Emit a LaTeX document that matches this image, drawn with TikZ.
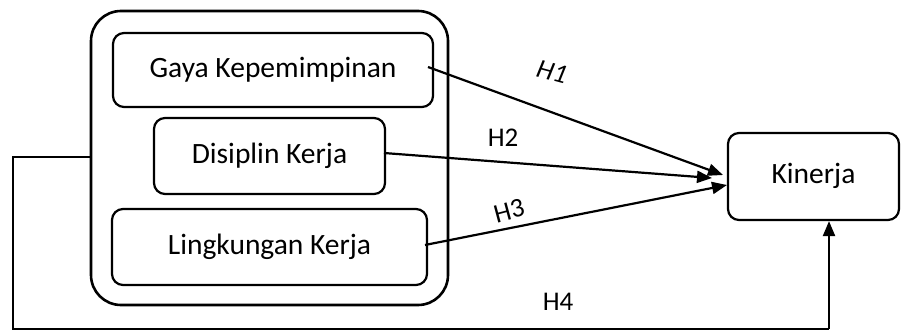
\documentclass[tikz,border=0pt]{standalone}
\usepackage{fontspec}
\setmainfont{Carlito}
\usetikzlibrary{arrows.meta}
\begin{document}
\begin{tikzpicture}[x=1pt,y=-1pt,
  box/.style={draw=black,line width=2.2pt,rounded corners=11pt,inner sep=0pt,font=\fontsize{29.5}{34}\selectfont},
  conn/.style={line width=2.2pt,-{Triangle[length=15pt,width=12pt]}},
  lbl/.style={font=\fontsize{27}{30}\selectfont,inner sep=0pt}]
\useasboundingbox (0,0) rectangle (901,332);
\node[draw=black,line width=2.6pt,rounded corners=30pt,minimum width=357pt,minimum height=294pt] (outer) at (269.5,158) {};
\node[box,minimum width=320pt,minimum height=74pt] (gaya) at (273,70) {Gaya Kepemimpinan};
\node[box,minimum width=231pt,minimum height=76pt] (dis) at (269.5,156) {\raisebox{2pt}{Disiplin Kerja}};
\node[box,minimum width=315pt,minimum height=76pt] (ling) at (269.5,247) {\raisebox{2pt}{Lingkungan Kerja}};
\node[box,minimum width=171pt,minimum height=87pt] (kin) at (813.5,176.5) {\raisebox{6pt}{Kinerja}};
\coordinate (s1) at (428,67);
\coordinate (s2) at (384,153);
\coordinate (s3) at (425,245);
\coordinate (t1) at (723,175);
\coordinate (t2) at (712,178);
\coordinate (t3) at (727,185);
\draw[conn] (s1) -- (t1);
\draw[conn] (s2) -- (t2);
\draw[conn] (s3) -- (t3);
\coordinate (c1) at (13,157);
\coordinate (c2) at (13,329);
\coordinate (c3) at (829,329);
\draw[line width=2.2pt] (outer.west |- c1) -- (c1) -- (c2) -- (c3);
\draw[conn] (c3) -- (kin.south -| c3);
\node[lbl,rotate=-15,font=\fontsize{27}{30}\selectfont\itshape] (h1) at (552,72) {H1};
\node[lbl] (h2) at (503,138) {H2};
\node[lbl,rotate=15] (h3) at (509,211) {H3};
\node[lbl] (h4) at (558,302) {H4};
\end{tikzpicture}
\end{document}
